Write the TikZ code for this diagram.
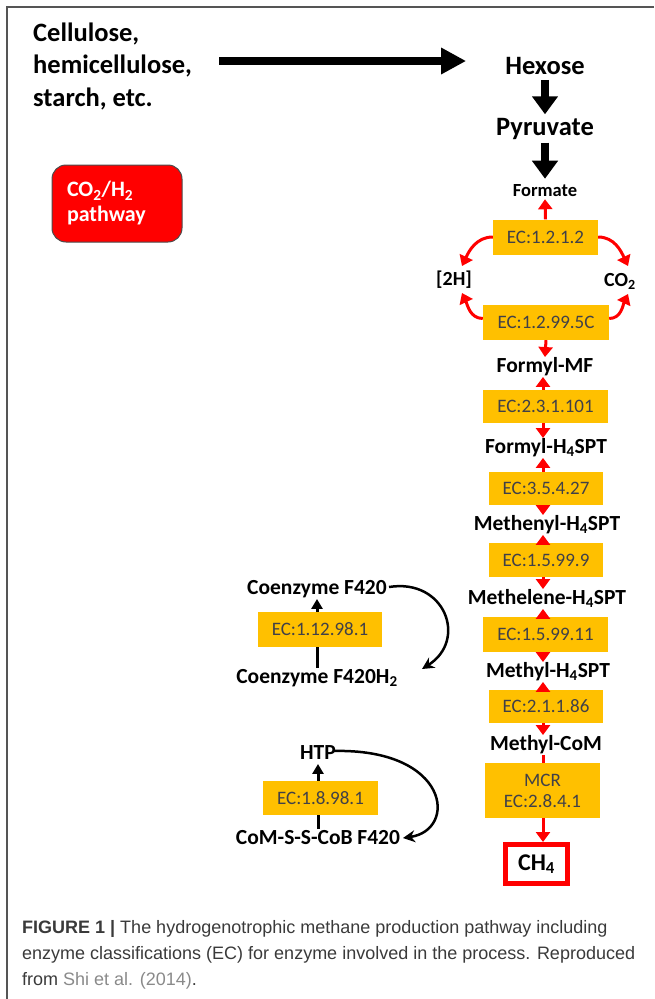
\documentclass[tikz,border=0pt]{standalone}
\usepackage{fontspec}
\setmainfont{Carlito}
\newfontfamily\capfont{Liberation Sans}
\usetikzlibrary{arrows.meta}
\definecolor{ecorange}{HTML}{FFC000}
\definecolor{ectext}{HTML}{404048}
\definecolor{pathred}{HTML}{FF0000}
\definecolor{arrred}{HTML}{FF0000}
\definecolor{frame}{HTML}{555555}
\definecolor{captext}{HTML}{3A3A3A}
\definecolor{linkgray}{HTML}{8A8A8A}
\begin{document}
\begin{tikzpicture}[x=1pt,y=-1pt,
  big/.style={font=\bfseries\fontsize{26.5}{32.5}\selectfont, inner sep=0pt},
  met/.style={font=\bfseries\fontsize{21.5}{24}\selectfont, inner sep=0pt, text height=15pt, text depth=4.5pt},
  ecbox/.style={fill=ecorange, text=ectext, font=\fontsize{19}{22}\selectfont, inner sep=0pt, align=center},
  redarr/.style={draw=arrred, line width=3pt, -{Triangle[length=10pt,width=14pt]}},
  redline/.style={draw=arrred, line width=3pt},
  bigarr/.style={draw=black, line width=8pt, -{Triangle[length=25pt,width=25pt]}},
  downarr/.style={draw=black, line width=8pt, -{Triangle[length=18pt,width=25pt]}},
  blkarr/.style={draw=black, line width=3pt, -{Triangle[length=10pt,width=11pt]}},
  curvarr/.style={draw=black, line width=2.5pt, -{Stealth[length=12pt,width=12pt]}}
]
\useasboundingbox (0,0) rectangle (654,999);
% frame
\draw[frame, line width=2pt] (654,7) -- (7,7) -- (7,999);

% top row
\node[big, anchor=west, align=left] (cell) at (33,66) {Cellulose,\\hemicellulose,\\starch, etc.};
\node[big] (hexose) at (545,66) {Hexose};
\node[big, text height=19pt, text depth=6pt] (pyruvate) at (545,129) {Pyruvate};
\node[font=\bfseries\fontsize{18.5}{22}\selectfont, inner sep=1pt] (formate) at (545,191) {Formate};
\draw[bigarr] ([xshift=27pt,yshift=5pt]cell.east) -- ([xshift=-39pt,yshift=5pt]hexose.west);
\draw[downarr] ([yshift=-5pt]hexose.south) -- ([yshift=2pt]pyruvate.north);
\draw[downarr] ([yshift=-1pt]pyruvate.south) -- ([yshift=5pt]formate.north);

% pathway box
\node[draw=black!70, line width=1pt, fill=pathred, rounded corners=14pt, minimum width=130pt, minimum height=77pt, text=white, font=\bfseries\fontsize{22}{25}\selectfont, align=left, text width=100pt, inner sep=0pt] (path) at (117,203.5) {CO\textsubscript{2}/H\textsubscript{2}\\pathway};

% ring
\node[ecbox, minimum width=105pt, minimum height=35pt] (ec1) at (545.5,237) {EC:1.2.1.2};
\node[font=\bfseries\fontsize{20}{22}\selectfont, inner sep=1pt] (h2) at (454,280) {[2H]};
\node[font=\bfseries\fontsize{20}{22}\selectfont, inner sep=1pt] (co2) at (620,281) {CO\textsubscript{2}};
\node[ecbox, minimum width=126pt, minimum height=35pt] (ec2) at (546,322.5) {EC:1.2.99.5C};
\coordinate (h2t) at (462,266);
\coordinate (h2b) at (462,293);
\coordinate (co2t) at (628,266);
\coordinate (co2b) at (628,294);
\draw[redarr] (ec1.north) -- ([yshift=-1pt]formate.south);
\draw[redarr] (ec1.west) to[out=180,in=65] (h2t);
\draw[redarr] (ec1.east) to[out=0,in=115] (co2t);
\draw[redarr] ([yshift=4pt]ec2.west) to[out=180,in=-65] (h2b);
\draw[redarr] ([yshift=4pt]ec2.east) to[out=0,in=-115] (co2b);

% main chain
\node[met] (fmf) at (545,367) {Formyl-MF};
\draw[redarr] (ec2.south) -- (fmf.north);
\node[ecbox, minimum width=125pt, minimum height=33pt] (ec3) at (545.5,406.5) {EC:2.3.1.101};
\node[met] (fh4) at (546,448) {Formyl-H\textsubscript{4}SPT};
\node[ecbox, minimum width=114pt, minimum height=33pt] (ec4) at (546,488.5) {EC:3.5.4.27};
\node[met] (menyl) at (547,525) {Methenyl-H\textsubscript{4}SPT};
\node[ecbox, minimum width=114pt, minimum height=34pt] (ec5) at (546,560) {EC:1.5.99.9};
\node[met] (mlene) at (547,599) {Methelene-H\textsubscript{4}SPT};
\node[ecbox, minimum width=125pt, minimum height=35pt] (ec6) at (545.5,634.5) {EC:1.5.99.11};
\node[met] (mh4) at (548,672) {Methyl-H\textsubscript{4}SPT};
\node[ecbox, minimum width=114pt, minimum height=33pt] (ec7) at (546,706.5) {EC:2.1.1.86};
\node[met] (mcom) at (546,745) {Methyl-CoM};
\node[ecbox, minimum width=115pt, minimum height=55pt, font=\fontsize{19}{21}\selectfont] (mcr) at (542.5,790.5) {MCR\\EC:2.8.4.1};
\node[draw=pathred, line width=5pt, minimum width=62pt, minimum height=39pt, inner sep=0pt, font=\bfseries\fontsize{24}{26}\selectfont] (ch4) at (536.5,864) {CH\textsubscript{4}};

\foreach \b/\u/\d in {ec3/fmf/fh4, ec4/fh4/menyl, ec5/menyl/mlene, ec6/mlene/mh4, ec7/mh4/mcom}{
  \draw[redarr] (\b.north -| 543,0) -- (\u.south -| 543,0);
  \draw[redarr] (\b.south -| 543,0) -- (\d.north -| 543,0);
}
\draw[redline] (mcom.south -| 543,0) -- (mcr.north -| 543,0);
\draw[redarr] (mcr.south -| 543,0) -- (ch4.north -| 543,0);

% left: F420
\node[met] (f420) at (317,589) {Coenzyme F420};
\node[met] (f420h2) at (317,678) {Coenzyme F420H\textsubscript{2}};
\draw[blkarr] (f420h2.north) -- (f420.south);
\node[ecbox, minimum width=124pt, minimum height=35pt] (ec8) at (320,629.5) {EC:1.12.98.1};
\coordinate (f420tip) at (422,669);
\draw[curvarr] ([xshift=2pt,yshift=2pt]f420.east) .. controls (445,578) and (468,640) .. (f420tip);

% left: HTP
\node[met] (htp) at (318,754) {HTP};
\node[met] (com) at (318,839) {CoM-S-S-CoB F420};
\draw[blkarr] (com.north) -- (htp.south);
\node[ecbox, minimum width=115pt, minimum height=34pt] (ec9) at (320.5,798) {EC:1.8.98.1};
\coordinate (htpstart) at (333,751);
\coordinate (comtip) at (403,838);
\draw[curvarr] (htpstart) .. controls (450,748) and (458,830) .. (comtip);

% caption
\node[anchor=north west, inner sep=0pt, align=left, text=captext, font=\capfont\fontsize{18}{26}\selectfont] (cap) at (22,920) {\textbf{FIGURE 1 |} The hydrogenotrophic methane production pathway including\\enzyme classifications (EC) for enzyme involved in the process. Reproduced\\from {\color{linkgray}Shi et al. (2014)}.};
\end{tikzpicture}
\end{document}
